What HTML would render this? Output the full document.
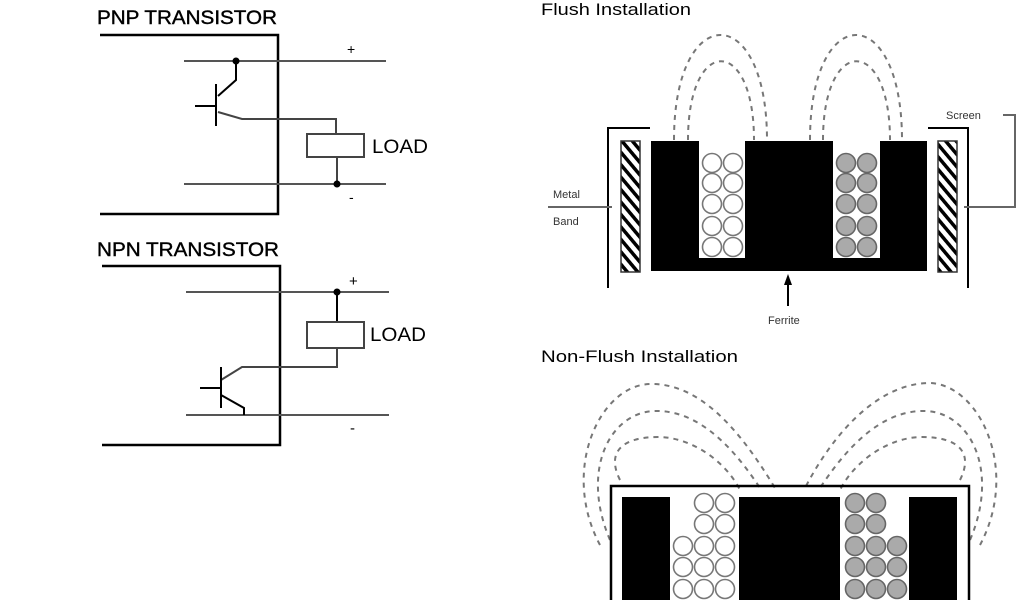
<!DOCTYPE html>
<html><head><style>body{margin:0;background:#fff}svg{display:block}text{font-family:"Liberation Sans",sans-serif}</style></head><body>
<svg width="1024" height="600" viewBox="0 0 1024 600" xmlns="http://www.w3.org/2000/svg">
<g stroke="#000" fill="none" stroke-width="2">
<polyline points="100,35 278,35 278,214 100,214" stroke-width="2.5"/>
<line x1="184" y1="61" x2="386" y2="61" stroke="#555"/>
<line x1="184" y1="184" x2="386" y2="184" stroke="#555"/>
<polyline points="236,61 236,80 218,96"/>
<line x1="216" y1="84" x2="216" y2="126"/>
<line x1="195" y1="106" x2="216" y2="106"/>
<polyline points="218,112 242,119 336,119 336,134" stroke="#444"/>
<rect x="307" y="134" width="57" height="23" stroke="#444"/>
<line x1="337" y1="157" x2="337" y2="184" stroke="#444"/>
<polyline points="102,266 280,266 280,445 102,445" stroke-width="2.5"/>
<line x1="186" y1="292" x2="389" y2="292" stroke="#555"/>
<line x1="186" y1="415" x2="389" y2="415" stroke="#555"/>
<line x1="337" y1="292" x2="337" y2="322"/>
<rect x="307" y="322" width="57" height="26" stroke="#444"/>
<polyline points="337,348 337,367 242,367 221,380" stroke="#444"/>
<line x1="221" y1="367" x2="221" y2="408"/>
<line x1="200" y1="388" x2="221" y2="388"/>
<polyline points="221,395 244,408 244,415"/>
</g>
<circle cx="236" cy="61" r="3.5"/><circle cx="337" cy="184" r="3.5"/><circle cx="337" cy="292" r="3.5"/>
<text x="97" y="24" font-size="19" textLength="180" lengthAdjust="spacingAndGlyphs" stroke="#000" stroke-width="0.4">PNP TRANSISTOR</text>
<text x="97" y="256" font-size="19" textLength="182" lengthAdjust="spacingAndGlyphs" stroke="#000" stroke-width="0.4">NPN TRANSISTOR</text>
<text x="372" y="153" font-size="19" textLength="56" lengthAdjust="spacingAndGlyphs">LOAD</text>
<text x="370" y="341" font-size="19" textLength="56" lengthAdjust="spacingAndGlyphs">LOAD</text>
<text x="347" y="54" font-size="14">+</text>
<text x="349" y="286" font-size="15">+</text>
<text x="349" y="202" font-size="14">-</text>
<text x="350" y="433" font-size="15">-</text>

<text x="541" y="15" font-size="17" textLength="150" lengthAdjust="spacingAndGlyphs">Flush Installation</text>
<g fill="none" stroke="#777" stroke-width="2" stroke-dasharray="5,5">
<path d="M674,140 C674,0 767,0 767,140"/>
<path d="M688,140 C688,35 754,35 754,140"/>
<path d="M810,140 C810,0 902,0 902,140"/>
<path d="M823,140 C823,35 890,35 890,140"/>
</g>
<path d="M651,141 H699 V258 H745 V141 H833 V258 H880 V141 H927 V271 H651 Z" fill="#000"/>
<defs><pattern id="h" width="8" height="8" patternUnits="userSpaceOnUse" patternTransform="rotate(-40)"><rect width="8" height="8" fill="#fff"/><rect width="3.5" height="8" fill="#000"/></pattern></defs>
<rect x="621" y="141" width="19" height="131" fill="url(#h)" stroke="#333" stroke-width="1.5"/>
<rect x="938" y="141" width="19" height="131" fill="url(#h)" stroke="#333" stroke-width="1.5"/>
<g fill="#fff" stroke="#777" stroke-width="1.6">
<circle cx="712" cy="163" r="9.5"/><circle cx="733" cy="163" r="9.5"/>
<circle cx="712" cy="183" r="9.5"/><circle cx="733" cy="183" r="9.5"/>
<circle cx="712" cy="204" r="9.5"/><circle cx="733" cy="204" r="9.5"/>
<circle cx="712" cy="226" r="9.5"/><circle cx="733" cy="226" r="9.5"/>
<circle cx="712" cy="247" r="9.5"/><circle cx="733" cy="247" r="9.5"/>
</g>
<g fill="#aaa" stroke="#666" stroke-width="1.6">
<circle cx="846" cy="163" r="9.5"/><circle cx="867" cy="163" r="9.5"/>
<circle cx="846" cy="183" r="9.5"/><circle cx="867" cy="183" r="9.5"/>
<circle cx="846" cy="204" r="9.5"/><circle cx="867" cy="204" r="9.5"/>
<circle cx="846" cy="226" r="9.5"/><circle cx="867" cy="226" r="9.5"/>
<circle cx="846" cy="247" r="9.5"/><circle cx="867" cy="247" r="9.5"/>
</g>
<g stroke="#000" stroke-width="2" fill="none">
<polyline points="650,128 608,128 608,288"/>
<polyline points="928,128 968,128 968,288"/>
<line x1="548" y1="207" x2="612" y2="207" stroke="#666"/>
<polyline points="1003,115 1015,115 1015,207 964,207" stroke="#666"/>
<line x1="788" y1="306" x2="788" y2="282"/>
</g>
<path d="M788,274 L784,285 L792,285 Z"/>
<text x="553" y="198" font-size="11" fill="#333">Metal</text>
<text x="553" y="225" font-size="11" fill="#333">Band</text>
<text x="946" y="119" font-size="11" fill="#333">Screen</text>
<text x="768" y="324" font-size="11" fill="#333">Ferrite</text>

<text x="541" y="362" font-size="17" textLength="197" lengthAdjust="spacingAndGlyphs">Non-Flush Installation</text>
<g fill="none" stroke="#777" stroke-width="2" stroke-dasharray="5,5">
<path d="M600,545 C560,470 600,385 650,384 C700,383 740,430 775,488"/>
<path d="M610,540 C580,470 610,412 655,411 C700,410 735,450 760,488"/>
<path d="M620,480 C605,450 625,437 658,437 C690,437 725,460 740,490"/>
<path d="M980,545 C1020,470 980,385 930,383 C880,383 835,430 805,488"/>
<path d="M970,540 C1000,470 970,412 925,411 C880,410 845,450 820,488"/>
<path d="M960,480 C975,450 955,437 922,437 C890,437 855,460 840,490"/>
</g>
<rect x="611" y="486" width="358" height="130" fill="none" stroke="#000" stroke-width="2.5"/>
<rect x="622" y="497" width="48" height="110"/>
<rect x="739" y="497" width="101" height="110"/>
<rect x="909" y="497" width="48" height="110"/>
<g fill="#fff" stroke="#777" stroke-width="1.6">
<circle cx="704" cy="503" r="9.5"/><circle cx="725" cy="503" r="9.5"/>
<circle cx="704" cy="524" r="9.5"/><circle cx="725" cy="524" r="9.5"/>
<circle cx="683" cy="546" r="9.5"/><circle cx="704" cy="546" r="9.5"/><circle cx="725" cy="546" r="9.5"/>
<circle cx="683" cy="567" r="9.5"/><circle cx="704" cy="567" r="9.5"/><circle cx="725" cy="567" r="9.5"/>
<circle cx="683" cy="589" r="9.5"/><circle cx="704" cy="589" r="9.5"/><circle cx="725" cy="589" r="9.5"/>
</g>
<g fill="#aaa" stroke="#666" stroke-width="1.6">
<circle cx="855" cy="503" r="9.5"/><circle cx="876" cy="503" r="9.5"/>
<circle cx="855" cy="524" r="9.5"/><circle cx="876" cy="524" r="9.5"/>
<circle cx="855" cy="546" r="9.5"/><circle cx="876" cy="546" r="9.5"/><circle cx="897" cy="546" r="9.5"/>
<circle cx="855" cy="567" r="9.5"/><circle cx="876" cy="567" r="9.5"/><circle cx="897" cy="567" r="9.5"/>
<circle cx="855" cy="589" r="9.5"/><circle cx="876" cy="589" r="9.5"/><circle cx="897" cy="589" r="9.5"/>
</g>
</svg>
</body></html>
